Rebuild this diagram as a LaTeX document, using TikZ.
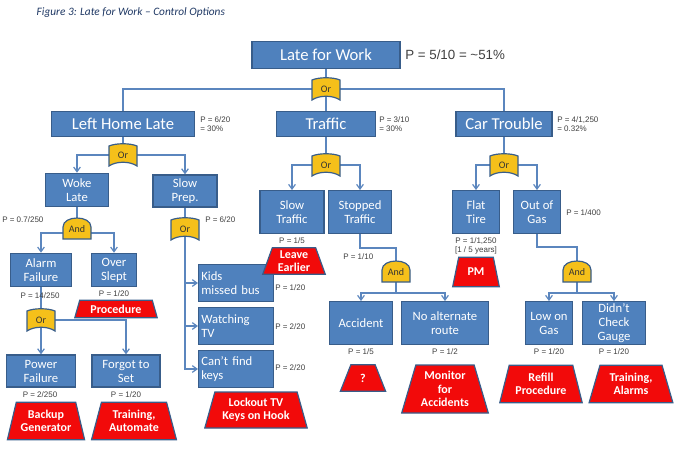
\documentclass[tikz,border=0pt]{standalone}
\usepackage{fontspec}
\setmainfont{Carlito}
\newfontfamily\plab{Liberation Sans}
\usetikzlibrary{shapes.geometric,backgrounds,arrows.meta}
\definecolor{boxb}{HTML}{4F81BD}
\definecolor{boxe}{HTML}{385D8A}
\definecolor{gatey}{HTML}{F5C01A}
\definecolor{redf}{HTML}{F20A0A}
\definecolor{linec}{HTML}{5B86BE}
\definecolor{titc}{HTML}{1F3864}
\newcommand{\orgate}[3]{%
 \path[fill=gatey,draw=boxe,line width=0.9pt] (#2-14,#3-9) .. controls (#2-7,#3-12) and (#2+7,#3-12) .. (#2+14,#3-9) -- (#2+14,#3+11) .. controls (#2+7,#3+6) and (#2-7,#3+6) .. (#2-14,#3+11) -- cycle;
 \node[gtext] (#1) at (#2,#3) {Or};}
\newcommand{\andgate}[3]{%
 \path[fill=gatey,draw=boxe,line width=0.9pt] (#2-14,#3+10) -- (#2-14,#3-2) .. controls (#2-14,#3-14) and (#2+14,#3-14) .. (#2+14,#3-2) -- (#2+14,#3+10) -- cycle;
 \node[gtext] (#1) at (#2,#3) {And};}
\tikzset{
 box/.style={draw=boxe,fill=boxb,line width=0.9pt,text=white,font=\fontsize{9.5}{10.5}\selectfont,align=center,inner sep=1pt},
 bigbox/.style={box,font=\fontsize{12.5}{14}\selectfont},
 red/.style={trapezium,trapezium left angle=72,trapezium right angle=72,trapezium stretches=true,draw=boxe,fill=redf,line width=0.9pt,text=white,font=\bfseries\fontsize{9}{10}\selectfont,align=center,inner sep=1pt},
 gtext/.style={font=\fontsize{7.5}{8}\selectfont,text=black!80,inner sep=1pt},
 plab/.style={font=\plab\fontsize{6}{7}\selectfont,text=black!75,align=left,inner sep=0pt},
 conn/.style={draw=linec,line width=0.9pt},
 arr/.style={conn,-{Straight Barb[length=3.5pt,width=5pt]}},
}
\begin{document}
\begin{tikzpicture}[x=0.75pt,y=-0.75pt]
\useasboundingbox (0,0) rectangle (676,454);
\node[anchor=west,font=\itshape\fontsize{8.5}{10}\selectfont,text=titc] (title) at (32,13) {Figure 3: Late for Work -- Control Options};
% level 0,1
\node[bigbox,minimum width=111pt,minimum height=20pt] (top) at (326,55) {Late for Work};
\node[plab,anchor=west,font=\plab\fontsize{10}{11}\selectfont] (ptop) at (405,55) {P = 5/10 = \textasciitilde 51\%};
\orgate{g1}{326}{89}
\node[bigbox,minimum width=107pt,minimum height=19pt] (lhl) at (123,124) {Left Home Late};
\node[bigbox,minimum width=74pt,minimum height=19pt] (traf) at (326,124) {Traffic};
\node[bigbox,minimum width=72pt,minimum height=19pt] (car) at (504,124) {Car Trouble};
\node[plab,anchor=west] (plhl) at (200,124) {P = 6/20\\= 30\%};
\node[plab,anchor=west] (ptraf) at (379,124) {P = 3/10\\= 30\%};
\node[plab,anchor=west] (pcar) at (557,124) {P = 4/1,250\\= 0.32\%};
% level 2
\orgate{g2}{123}{155}
\orgate{g3}{326}{165}
\orgate{g4}{504}{165}
\node[box,minimum width=47pt,minimum height=25pt] (woke) at (77,190) {Woke\\Late};
\node[box,minimum width=48pt,minimum height=24pt] (slow) at (185,191) {Slow\\Prep.};
\node[box,minimum width=48pt,minimum height=32pt] (st) at (292,212) {Slow\\Traffic};
\node[box,minimum width=47pt,minimum height=32pt] (stop) at (360,212) {Stopped\\Traffic};
\node[box,minimum width=35pt,minimum height=32pt] (flat) at (476,212) {Flat\\Tire};
\node[box,minimum width=35pt,minimum height=32pt] (gas) at (537,212) {Out of\\Gas};
\node[plab,anchor=west] (pgas) at (566,213) {P = 1/400};
% left branch
\andgate{a1}{77}{229}
\node[plab,anchor=west] (pwoke) at (2,220) {P = 0.7/250};
\node[box,minimum width=46pt,minimum height=25pt] (alarm) at (41,270) {Alarm\\Failure};
\node[box,minimum width=34pt,minimum height=25pt] (over) at (114,270) {Over\\Slept};
\node[plab] (palarm) at (40,296) {P = 14/250};
\node[plab] (pover) at (114,294) {P = 1/20};
\node[red,minimum width=62pt,minimum height=13pt] (proc) at (116,309) {Procedure};
\orgate{g5}{41}{320}
\node[box,minimum width=52pt,minimum height=24pt] (power) at (41,371) {Power\\Failure};
\node[box,minimum width=51pt,minimum height=24pt] (forgot) at (126,371) {Forgot to\\Set};
\node[plab] (ppower) at (40,395) {P = 2/250};
\node[plab] (pforgot) at (126,395) {P = 1/20};
\node[red,minimum width=58pt,minimum height=28pt] (backup) at (46,421) {Backup\\Generator};
\node[red,minimum width=64pt,minimum height=28pt] (train1) at (134,421) {Training,\\Automate};
% slow prep
\orgate{g6}{185}{229}
\node[plab,anchor=west] (pslow) at (205,220) {P = 6/20};
\node[box,anchor=west,align=left,minimum width=56pt,minimum height=28pt,text width=52pt] (kids) at (198,283) {Kids\\missed bus};
\node[box,anchor=west,align=left,minimum width=56pt,minimum height=28pt,text width=52pt] (tv) at (198,326) {Watching\\TV};
\node[box,anchor=west,align=left,minimum width=56pt,minimum height=28pt,text width=52pt] (keys) at (198,369) {Can't find\\keys};
\node[plab,anchor=west] (pkids) at (275,288) {P = 1/20};
\node[plab,anchor=west] (ptv) at (275,327) {P = 2/20};
\node[plab,anchor=west] (pkeys) at (275,368) {P = 2/20};
\node[red,minimum width=77pt,minimum height=27pt] (lock) at (256,410) {Lockout TV\\Keys on Hook};
% traffic branch
\node[plab] (pst) at (292,241) {P = 1/5};
\node[red,minimum width=47pt,minimum height=20pt] (leave) at (294,261) {Leave\\Earlier};
\node[plab,anchor=west] (pstop) at (343,257) {P = 1/10};
\coordinate (s1) at (396,248);
\andgate{a2}{396}{272}
\coordinate (j2) at (396,293);
\node[box,minimum width=47pt,minimum height=32pt] (acc) at (361,323) {Accident};
\node[box,minimum width=65pt,minimum height=32pt] (noalt) at (445,323) {No alternate\\route};
\node[plab] (pacc) at (361,352) {P = 1/5};
\node[plab] (pnoalt) at (445,352) {P = 1/2};
\node[red,minimum width=34pt,minimum height=20pt] (q) at (363,378) {?};
\node[red,minimum width=65pt,minimum height=36pt] (mon) at (445,389) {Monitor\\for\\Accidents};
% car branch
\node[plab,align=center] (pflat) at (476,246) {P = 1/1,250\\{[1 / 5 years]}};
\node[red,minimum width=35pt,minimum height=22pt] (pm) at (476,272) {PM};
\coordinate (s2) at (577,247);
\andgate{a3}{577}{272}
\coordinate (j3) at (577,293);
\node[box,minimum width=35pt,minimum height=32pt] (low) at (549,323) {Low on\\Gas};
\node[box,minimum width=47pt,minimum height=32pt] (gauge) at (614,323) {Didn't\\Check\\Gauge};
\node[plab] (plow) at (549,352) {P = 1/20};
\node[plab] (pgauge) at (614,352) {P = 1/20};
\node[red,minimum width=62pt,minimum height=28pt] (refill) at (541,384) {Refill\\Procedure};
\node[red,minimum width=63pt,minimum height=28pt] (train2) at (631,384) {Training,\\Alarms};
% connectors
\begin{scope}[on background layer]
\draw[conn] (top) -- (g1);
\draw[conn] (g1) -| (lhl);
\draw[conn] (g1) -| (car);
\draw[conn] (g1) -- (traf);
\draw[conn] (lhl) -- (g2);
\draw[arr] (g2) -| (woke);
\draw[arr] (g2) -| (slow);
\draw[conn] (traf) -- (g3);
\draw[arr] (g3) -| (st);
\draw[arr] (g3) -| (stop);
\draw[conn] (car) -- (g4);
\draw[arr] (g4) -| (flat);
\draw[arr] (g4) -| (gas);
\draw[conn] (woke) -- (a1);
\draw[arr] (a1.south) ++(0,0) |- ++(0,0) (a1) ++(0,4) -| (alarm);
\draw[arr] (a1) ++(0,4) -| (over);
\draw[conn] (alarm) -- (g5);
\draw[arr] (g5) -- (power);
\draw[arr] (g5) -| (forgot);
\draw[conn] (slow) -- (g6);
\draw[arr] (g6) |- (kids);
\draw[arr] (g6) |- (tv);
\draw[arr] (g6) |- (keys);
\draw[conn] (stop) |- (s1) -- (a2);
\draw[conn] (a2) -- (j2);
\draw[arr] (j2) -| (acc);
\draw[arr] (j2) -| (noalt);
\draw[conn] (gas) |- (s2) -- (a3);
\draw[conn] (a3) -- (j3);
\draw[arr] (j3) -| (low);
\draw[arr] (j3) -| (gauge);
\end{scope}
\end{tikzpicture}
\end{document}
